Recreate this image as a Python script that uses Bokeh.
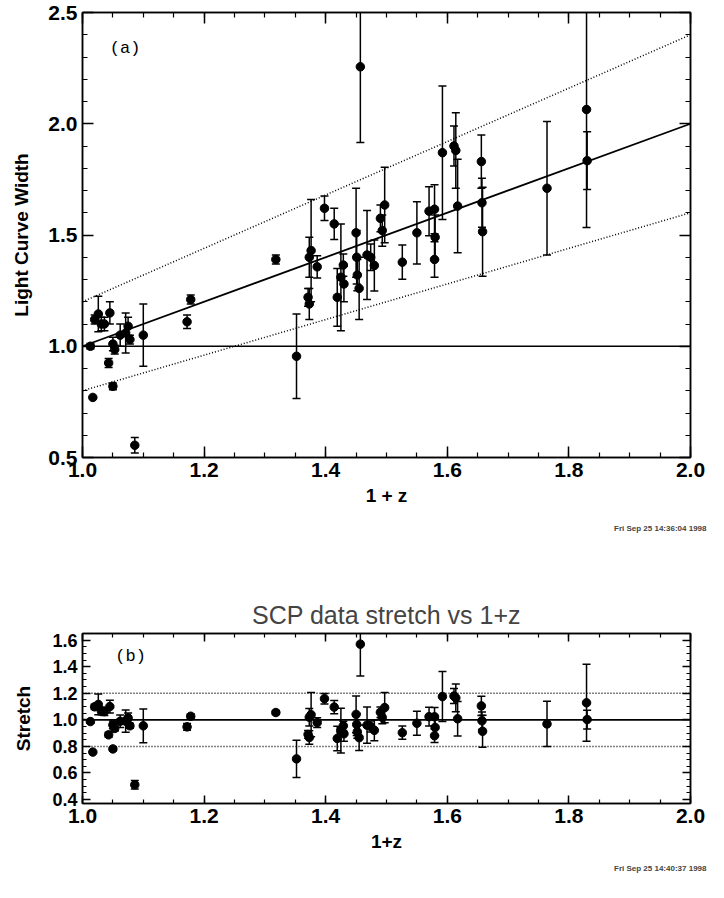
from bokeh.plotting import figure
from bokeh.models import (Range1d, LinearAxis, FixedTicker, PrintfTickFormatter, Title, ColumnDataSource)
from bokeh.layouts import column
from bokeh.core.properties import value
from bokeh.embed import file_html
from bokeh.resources import INLINE
import numpy as np

# ---- data ----
z1 = [1.013, 1.017, 1.020, 1.026, 1.031, 1.036, 1.043, 1.045, 1.050, 1.050, 1.053, 1.062, 1.071, 1.075, 1.078,
      1.086, 1.100, 1.172, 1.178, 1.318, 1.352, 1.371, 1.373, 1.373, 1.376, 1.386, 1.398, 1.414, 1.419, 1.425,
      1.429, 1.430, 1.450, 1.451, 1.452, 1.455, 1.457, 1.468, 1.474, 1.480, 1.490, 1.493, 1.497, 1.526, 1.550,
      1.570, 1.579, 1.580, 1.579, 1.592, 1.611, 1.614, 1.617, 1.656, 1.657, 1.658, 1.764, 1.829, 1.830]
width = [1.00, 0.77, 1.12, 1.145, 1.10, 1.10, 0.925, 1.15, 0.82, 1.01, 0.985, 1.05, 1.06, 1.09, 1.03,
         0.555, 1.05, 1.11, 1.21, 1.39, 0.955, 1.22, 1.19, 1.40, 1.43, 1.357, 1.62, 1.55, 1.22, 1.31,
         1.365, 1.28, 1.51, 1.40, 1.32, 1.26, 2.256, 1.41, 1.40, 1.363, 1.575, 1.52, 1.635, 1.378, 1.51,
         1.607, 1.616, 1.49, 1.39, 1.87, 1.90, 1.88, 1.63, 1.83, 1.645, 1.515, 1.71, 2.064, 1.834]
width_err = [0.012, 0.0, 0.02, 0.08, 0.03, 0.03, 0.02, 0.05, 0.015, 0.03, 0.02, 0.05, 0.09, 0.04, 0.02,
             0.035, 0.14, 0.03, 0.02, 0.02, 0.19, 0.04, 0.07, 0.09, 0.23, 0.05, 0.055, 0.07, 0.13, 0.24,
             0.05, 0.08, 0.20, 0.12, 0.07, 0.14, 0.34, 0.20, 0.06, 0.115, 0.06, 0.07, 0.17, 0.077, 0.14,
             0.11, 0.11, 0.10, 0.08, 0.30, 0.09, 0.17, 0.21, 0.12, 0.11, 0.20, 0.30, 0.53, 0.13]
stretch = [0.987, 0.757, 1.098, 1.116, 1.067, 1.062, 0.887, 1.100, 0.781, 0.962, 0.935, 0.989, 0.990, 1.014, 0.955,
           0.511, 0.955, 0.947, 1.027, 1.055, 0.706, 0.890, 0.867, 1.020, 1.039, 0.979, 1.159, 1.096, 0.860, 0.919,
           0.955, 0.895, 1.041, 0.965, 0.910, 0.866, 1.57, 0.960, 0.950, 0.921, 1.057, 1.018, 1.092, 0.903, 0.974,
           1.024, 1.023, 0.943, 0.880, 1.175, 1.179, 1.165, 1.008, 1.105, 0.993, 0.914, 0.969, 1.128, 1.002]
stretch_err = [0.012, 0.0, 0.02, 0.078, 0.029, 0.029, 0.019, 0.048, 0.014, 0.029, 0.019, 0.047, 0.084, 0.037, 0.019,
               0.032, 0.127, 0.026, 0.017, 0.015, 0.141, 0.029, 0.051, 0.066, 0.167, 0.036, 0.039, 0.050, 0.092, 0.168,
               0.035, 0.056, 0.138, 0.083, 0.048, 0.096, 0.24, 0.136, 0.041, 0.078, 0.040, 0.047, 0.114, 0.050, 0.090,
               0.070, 0.070, 0.063, 0.051, 0.188, 0.056, 0.105, 0.130, 0.072, 0.066, 0.121, 0.170, 0.290, 0.071]

# reference lines (endpoints)
line_x = [1.0, 2.0]
fit_line = [1.0, 2.0]
fit_upper = [1.2, 2.4]
fit_lower = [0.8, 1.6]
unity = [1.0, 1.0]
s_upper = [1.2, 1.2]
s_lower = [0.8, 0.8]

x_ticks = [1.0, 1.2, 1.4, 1.6, 1.8, 2.0]
y1_ticks = [0.5, 1.0, 1.5, 2.0, 2.5]
y2_ticks = [0.4, 0.6, 0.8, 1.0, 1.2, 1.4, 1.6]

title2 = "SCP data stretch vs 1+z"
stamp1 = "Fri Sep 25 14:36:04 1998"
stamp2 = "Fri Sep 25 14:40:37 1998"

FONT = "Liberation Sans"


def style_axes(p, xt, xminor, yt, yminor, lab_size, ylab_size, major_len, minor_len):
    for ax in p.xaxis + p.yaxis:
        ax.major_tick_out = 0
        ax.minor_tick_out = 0
        ax.major_tick_in = major_len
        ax.minor_tick_in = minor_len
        ax.axis_line_width = 1.5
        ax.major_tick_line_width = 1.5
        ax.minor_tick_line_width = 1.2
        ax.formatter = PrintfTickFormatter(format="%.1f")
        ax.major_label_text_font = FONT
        ax.major_label_text_font_style = "bold"
        ax.major_label_text_color = "black"
        ax.axis_label_text_font = FONT
        ax.axis_label_text_font_style = "bold"
        ax.axis_label_text_font_size = "19px"
        ax.axis_label_text_color = "black"
    for ax in p.xaxis:
        ax.ticker = FixedTicker(ticks=xt, minor_ticks=xminor)
        ax.major_label_text_font_size = lab_size
    for ax in p.yaxis:
        ax.ticker = FixedTicker(ticks=yt, minor_ticks=yminor)
        ax.major_label_text_font_size = ylab_size


def mirror(p, xt, xminor, yt, yminor, major_len, minor_len):
    top = LinearAxis(ticker=FixedTicker(ticks=xt, minor_ticks=xminor))
    right = LinearAxis(ticker=FixedTicker(ticks=yt, minor_ticks=yminor))
    for ax in (top, right):
        ax.major_label_text_font_size = "1px"
        ax.major_label_text_color = None
        ax.major_label_standoff = 0
        ax.major_tick_out = 0
        ax.minor_tick_out = 0
        ax.major_tick_in = major_len
        ax.minor_tick_in = minor_len
        ax.axis_line_width = 1.5
        ax.major_tick_line_width = 1.5
        ax.minor_tick_line_width = 1.2
    p.add_layout(top, "above")
    p.add_layout(right, "right")


def draw_points(p, x, y, e):
    lo = [a - b for a, b in zip(y, e)]
    hi = [a + b for a, b in zip(y, e)]
    src = ColumnDataSource(dict(x=x, y=y, lo=lo, hi=hi))
    p.segment(x0="x", y0="lo", x1="x", y1="hi", source=src, line_color="black", line_width=1.5)
    p.scatter(x="x", y="lo", source=src, marker="dash", size=8, line_color="black", line_width=1.5)
    p.scatter(x="x", y="hi", source=src, marker="dash", size=8, line_color="black", line_width=1.5)
    p.scatter(x="x", y="y", source=src, marker="circle", size=8.5, fill_color="black", line_color="black")


x_minor = list(np.round(np.arange(1.0, 2.0001, 0.05), 3))
y1_minor = list(np.round(np.arange(0.5, 2.5001, 0.1), 3))
y2_minor = list(np.round(np.arange(0.35, 1.6501, 0.05), 3))

# ---------- top panel ----------
p1 = figure(width=708, height=555, x_range=Range1d(1.0, 2.0), y_range=Range1d(0.5, 2.5),
            output_backend="svg", toolbar_location=None,
            min_border_left=82, min_border_right=18, min_border_top=12, min_border_bottom=98)
p1.grid.visible = False
p1.outline_line_color = "black"
p1.outline_line_width = 1.5
p1.xaxis.axis_label = "1 + z"
p1.yaxis.axis_label = "Light Curve Width"
style_axes(p1, x_ticks, x_minor, y1_ticks, y1_minor, "21px", "21px", 11, 5)
mirror(p1, x_ticks, x_minor, y1_ticks, y1_minor, 11, 5)
p1.xaxis[0].major_label_standoff = 1
p1.xaxis[0].axis_label_standoff = 1
p1.yaxis[0].major_label_standoff = 5
p1.yaxis[0].axis_label_standoff = 13

p1.line(line_x, unity, line_color="black", line_width=1.5)
p1.line(line_x, fit_line, line_color="black", line_width=1.8)
p1.line(line_x, fit_upper, line_color="black", line_width=1.5, line_dash="1 2")
p1.line(line_x, fit_lower, line_color="black", line_width=1.5, line_dash="1 2")
draw_points(p1, z1, width, width_err)
p1.text(x=[1.045], y=[2.34], text=["(a)"], text_font=value("Liberation Mono"), text_font_size="17px",
        text_baseline="middle", text_align="left", text_color="black")
p1.add_layout(Title(text=stamp1, align="right", offset=-16, standoff=26, text_font=FONT,
                    text_font_size="8px", text_font_style="bold"), "below")

# ---------- bottom panel ----------
p2 = figure(width=708, height=327, x_range=Range1d(1.0, 2.0), y_range=Range1d(0.37, 1.65),
            output_backend="svg", toolbar_location=None,
            min_border_left=82, min_border_right=18, min_border_top=78, min_border_bottom=79)
p2.grid.visible = False
p2.outline_line_color = "black"
p2.outline_line_width = 1.5
p2.title.text = title2
p2.title.align = "center"
p2.title.text_font = FONT
p2.title.text_font_style = "normal"
p2.title.text_font_size = "25px"
p2.title.standoff = 9
p2.xaxis.axis_label = "1+z"
p2.yaxis.axis_label = "Stretch"
style_axes(p2, x_ticks, x_minor, y2_ticks, y2_minor, "21px", "18px", 8, 4)
mirror(p2, x_ticks, x_minor, y2_ticks, y2_minor, 8, 4)
p2.xaxis[0].major_label_standoff = 10
p2.xaxis[0].axis_label_standoff = 6
p2.yaxis[0].major_label_standoff = 5
p2.yaxis[0].axis_label_standoff = 15

p2.line(line_x, unity, line_color="black", line_width=1.8)
p2.line(line_x, s_upper, line_color="black", line_width=1.5, line_dash="1 2")
p2.line(line_x, s_lower, line_color="black", line_width=1.5, line_dash="1 2")
draw_points(p2, z1, stretch, stretch_err)
p2.text(x=[1.054], y=[1.48], text=["(b)"], text_font=value("Liberation Mono"), text_font_size="17px",
        text_baseline="middle", text_align="left", text_color="black")
p2.add_layout(Title(text=stamp2, align="right", offset=-16, standoff=14, text_font=FONT,
                    text_font_size="8px", text_font_style="bold"), "below")

layout = column(p1, p2, spacing=0)
open("out.html", "w").write(file_html(layout, INLINE))
